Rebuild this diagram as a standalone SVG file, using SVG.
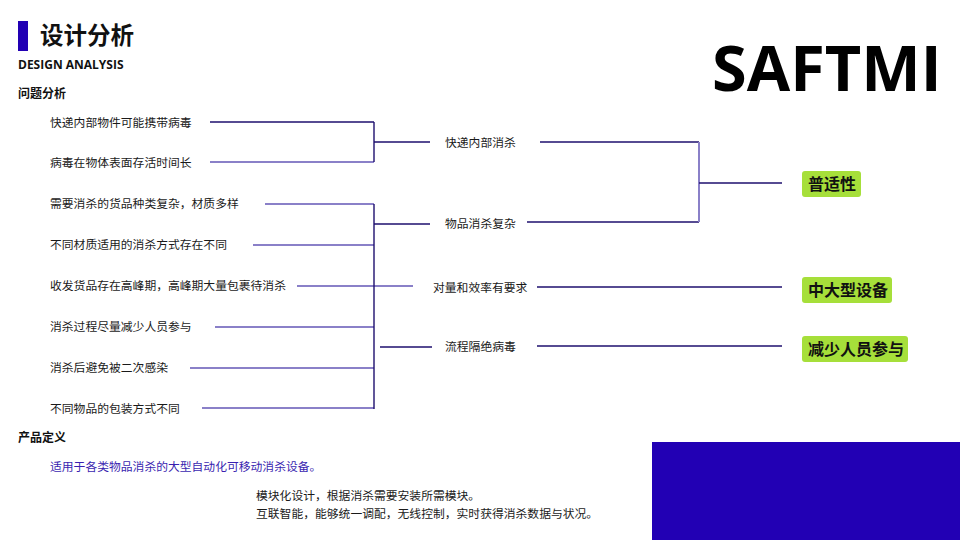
<svg xmlns="http://www.w3.org/2000/svg" width="960" height="540" viewBox="0 0 960 540">
<style>
text{font-family:"Noto Sans CJK SC","Noto Sans",sans-serif;fill:#1a1a1a}
.it{font-size:11.8px}
.hd{font-size:12px;font-weight:bold;fill:#111}
.tag{font-size:16px;font-weight:bold;fill:#111}
.dk{stroke:#1e0f6e;stroke-width:1.4;fill:none}
.lt{stroke:#8a80c8;stroke-width:2;fill:none}
.gb{fill:#a6df3a}
</style>
<rect width="960" height="540" fill="#ffffff"/>
<g id="header">
<rect x="18" y="21" width="10" height="30" fill="#2200b4"/>
<text x="40" y="44" style="font-size:23.5px;font-weight:bold;fill:#111">设计分析</text>
<text x="18" y="69" style="font-family:'Open Sans','Noto Sans',sans-serif;font-size:12px;font-weight:bold;fill:#111">DESIGN ANALYSIS</text>
<text x="18" y="98" class="hd">问题分析</text>
<text x="712" y="91" style="font-family:'Open Sans','Noto Sans',sans-serif;font-size:63px;font-weight:bold;fill:#000">SAFTMI</text>
</g>
<g id="connectors">
<line class="dk" x1="210" y1="122" x2="374" y2="122"/>
<line class="lt" x1="210" y1="162" x2="374" y2="162"/>
<line class="dk" x1="374" y1="122" x2="374" y2="162"/>
<line class="dk" x1="374" y1="142" x2="430" y2="142"/>
<line class="lt" x1="265" y1="204" x2="374" y2="204"/>
<line class="lt" x1="253" y1="245" x2="374" y2="245"/>
<line class="lt" x1="297" y1="286" x2="413" y2="286"/>
<line class="lt" x1="215" y1="327" x2="374" y2="327"/>
<line class="lt" x1="190" y1="368" x2="374" y2="368"/>
<line class="lt" x1="202" y1="408" x2="374" y2="408"/>
<line class="dk" x1="374" y1="204" x2="374" y2="409"/>
<line class="dk" x1="374" y1="224" x2="430" y2="224"/>
<line class="dk" x1="380" y1="347" x2="432" y2="347"/>
<line class="dk" x1="540" y1="142" x2="699" y2="142"/>
<line class="dk" x1="527" y1="222" x2="699" y2="222"/>
<line class="lt" x1="699" y1="142" x2="699" y2="222"/>
<line class="dk" x1="699" y1="183" x2="782" y2="183"/>
<line class="dk" x1="537" y1="287" x2="782" y2="287"/>
<line class="dk" x1="537" y1="346" x2="782" y2="346"/>
</g>
<g id="problems">
<text x="50" y="127" class="it">快递内部物件可能携带病毒</text>
<text x="50" y="167" class="it">病毒在物体表面存活时间长</text>
<text x="50" y="208" class="it">需要消杀的货品种类复杂，材质多样</text>
<text x="50" y="249" class="it">不同材质适用的消杀方式存在不同</text>
<text x="50" y="290" class="it">收发货品存在高峰期，高峰期大量包裹待消杀</text>
<text x="50" y="331" class="it">消杀过程尽量减少人员参与</text>
<text x="50" y="372" class="it">消杀后避免被二次感染</text>
<text x="50" y="413" class="it">不同物品的包装方式不同</text>
</g>
<g id="mid1"><text x="445" y="147" class="it">快递内部消杀</text></g>
<g id="mid2"><text x="445" y="228" class="it">物品消杀复杂</text></g>
<g id="mid3"><text x="433" y="292" class="it">对量和效率有要求</text></g>
<g id="mid4"><text x="445" y="351" class="it">流程隔绝病毒</text></g>
<g id="tag1"><rect class="gb" x="802" y="171" width="59" height="26" rx="3"/><text x="808" y="190" class="tag">普适性</text></g>
<g id="tag2"><rect class="gb" x="802" y="277" width="90" height="26" rx="3"/><text x="808" y="296" class="tag">中大型设备</text></g>
<g id="tag3"><rect class="gb" x="802" y="336" width="106" height="26" rx="3"/><text x="808" y="355" class="tag">减少人员参与</text></g>
<g id="definition">
<text x="18" y="442" class="hd">产品定义</text>
<text x="50" y="471" class="it" style="fill:#3a1fb0">适用于各类物品消杀的大型自动化可移动消杀设备。</text>
<text x="256" y="500" class="it">模块化设计，根据消杀需要安装所需模块。</text>
<text x="256" y="518" class="it">互联智能，能够统一调配，无线控制，实时获得消杀数据与状况。</text>
</g>
<rect id="block" x="652" y="442" width="308" height="98" fill="#2200b4"/>
</svg>
